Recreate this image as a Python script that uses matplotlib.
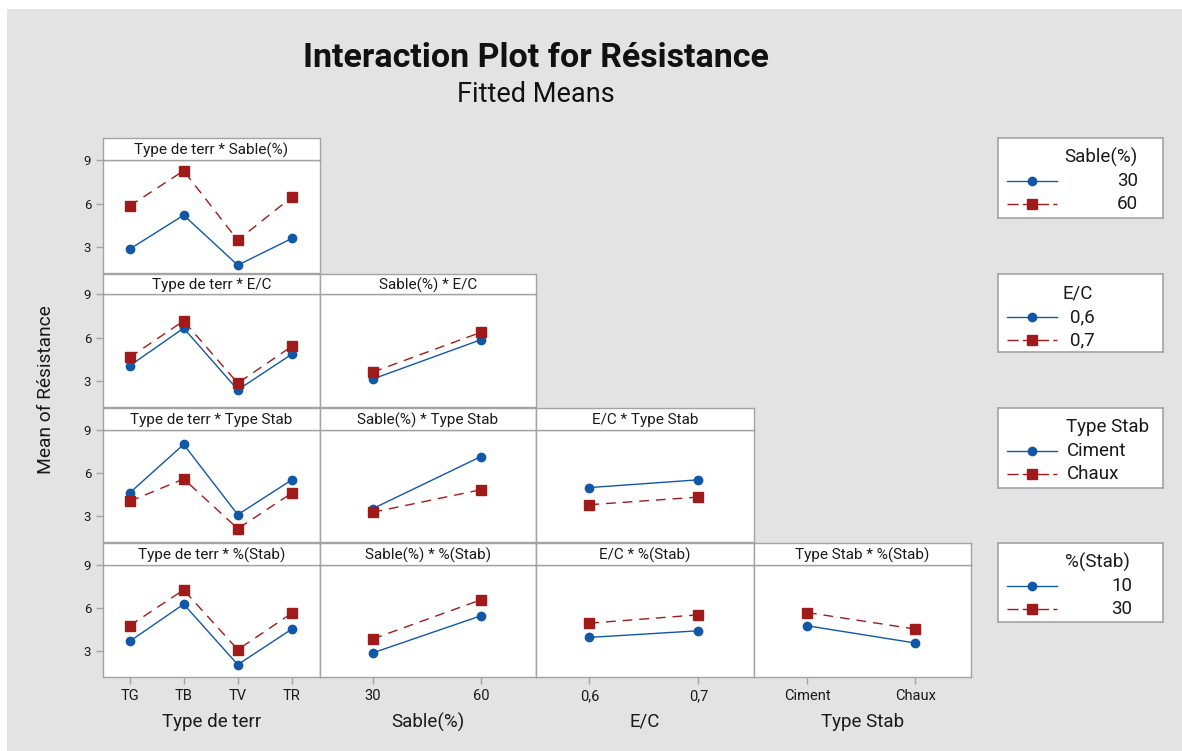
import matplotlib
matplotlib.use("Agg")
import matplotlib.pyplot as plt
from matplotlib.patches import Rectangle

plt.rcParams['font.family'] = ['Roboto', 'DejaVu Sans']

# Factor levels
terr_levels = ["TG", "TB", "TV", "TR"]
sable_levels = ["30", "60"]
ec_levels = ["0,6", "0,7"]
stab_levels = ["Ciment", "Chaux"]
pct_levels = ["10", "30"]

# Fitted means
terr_sable_30 = [2.86, 5.20, 1.76, 3.60]
terr_sable_60 = [5.83, 8.26, 3.48, 6.45]

terr_ec_06 = [4.05, 6.65, 2.40, 4.86]
terr_ec_07 = [4.63, 7.15, 2.86, 5.40]
sable_ec_06 = [3.14, 5.85]
sable_ec_07 = [3.62, 6.36]

terr_stab_ciment = [4.62, 8.00, 3.12, 5.54]
terr_stab_chaux = [4.04, 5.60, 2.15, 4.62]
sable_stab_ciment = [3.53, 7.15]
sable_stab_chaux = [3.28, 4.85]
ec_stab_ciment = [5.00, 5.54]
ec_stab_chaux = [3.81, 4.34]

terr_pct_10 = [3.69, 6.28, 2.08, 4.55]
terr_pct_30 = [4.78, 7.27, 3.12, 5.65]
sable_pct_10 = [2.89, 5.47]
sable_pct_30 = [3.86, 6.58]
ec_pct_10 = [3.97, 4.43]
ec_pct_30 = [4.96, 5.54]
stab_pct_10 = [4.78, 3.58]
stab_pct_30 = [5.70, 4.55]

y_ticks = [3, 6, 9]

BLUE = "#1157a8"
RED = "#a11a1a"
EDGE = "#a3a3a3"
BG = "#e3e3e3"
TXT = "#1a1a1a"

W, H = 1182, 751
fig = plt.figure(figsize=(W / 100, H / 100), dpi=100, facecolor="white")
fig.patches.append(Rectangle((7 / W, 0), 1, 1 - 9 / H, transform=fig.transFigure,
                             facecolor=BG, edgecolor="none", zorder=-10))


def px_axes(x0, y0, x1, y1):
    return fig.add_axes([x0 / W, 1 - y1 / H, (x1 - x0) / W, (y1 - y0) / H])


col_x = [103, 319.5, 536, 754, 970.5]
strip_top = [138, 274, 408, 543]
strip_bot = [160, 294, 430, 565]
plot_bot = [273, 407, 542, 677]

col_levels = [terr_levels, sable_levels, ec_levels, stab_levels]
col_names = ["Type de terr", "Sable(%)", "E/C", "Type Stab"]
strip_titles = [
    ["Type de terr * Sable(%)"],
    ["Type de terr * E/C", "Sable(%) * E/C"],
    ["Type de terr * Type Stab", "Sable(%) * Type Stab", "E/C * Type Stab"],
    ["Type de terr * %(Stab)", "Sable(%) * %(Stab)", "E/C * %(Stab)", "Type Stab * %(Stab)"],
]
panel_data = [
    [(terr_sable_30, terr_sable_60)],
    [(terr_ec_06, terr_ec_07), (sable_ec_06, sable_ec_07)],
    [(terr_stab_ciment, terr_stab_chaux), (sable_stab_ciment, sable_stab_chaux),
     (ec_stab_ciment, ec_stab_chaux)],
    [(terr_pct_10, terr_pct_30), (sable_pct_10, sable_pct_30),
     (ec_pct_10, ec_pct_30), (stab_pct_10, stab_pct_30)],
]

for r in range(4):
    for c in range(r + 1):
        levels = col_levels[c]
        lo, hi = panel_data[r][c]
        xs = list(range(len(levels)))

        ax = px_axes(col_x[c], strip_bot[r], col_x[c + 1], plot_bot[r])
        ax.set_facecolor("white")
        ax.plot(xs, lo, color=BLUE, lw=1.0, marker="o", ms=6, zorder=3)
        ax.plot(xs, hi, color=RED, lw=1.0, ls=(0, (7, 5)), marker="s", ms=6.5, zorder=3)
        ax.set_xlim(-0.49, len(levels) - 1 + 0.51)
        ax.set_ylim(1.22, 9.0)
        for s in ax.spines.values():
            s.set_color(EDGE)
            s.set_linewidth(1.0)
        ax.tick_params(colors=EDGE, labelcolor=TXT, length=5, width=1)
        ax.tick_params(axis="x", labelsize=10.5)
        ax.tick_params(axis="y", labelsize=9.5)
        ax.set_xticks(xs)
        if r == 3:
            ax.set_xticklabels(levels)
            ax.set_xlabel(col_names[c], fontsize=13.5, color=TXT, labelpad=7)
        else:
            ax.tick_params(axis="x", bottom=False, labelbottom=False)
        ax.set_yticks(y_ticks)
        if c == 0:
            ax.set_yticklabels([str(v) for v in y_ticks])
        else:
            ax.tick_params(axis="y", left=False, labelleft=False)

        sax = px_axes(col_x[c], strip_top[r], col_x[c + 1], strip_bot[r])
        sax.set_facecolor("white")
        sax.set_xticks([])
        sax.set_yticks([])
        for s in sax.spines.values():
            s.set_color(EDGE)
            s.set_linewidth(1.0)
        sax.text(0.5, 0.45, strip_titles[r][c], ha="center", va="center",
                 fontsize=11, color=TXT, transform=sax.transAxes)

# Keys on the right
key_titles = ["Sable(%)", "E/C", "Type Stab", "%(Stab)"]
key_labels = [sable_levels, ec_levels, stab_levels, pct_levels]
key_bottom = [218, 352, 488, 622]
key_title_x = [103, 80, 109.5, 99.5]
key_label_x = [140, 72, 69, 134]
key_label_ha = ["right", "left", "left", "right"]

for k in range(4):
    kax = px_axes(998, strip_top[k], 1162.5, key_bottom[k])
    kax.set_xlim(0, 164.5)
    kax.set_ylim(key_bottom[k] - strip_top[k], 0)
    kax.set_facecolor("white")
    kax.set_xticks([])
    kax.set_yticks([])
    for s in kax.spines.values():
        s.set_color(EDGE)
        s.set_linewidth(1.2)
    kax.text(key_title_x[k], 19, key_titles[k], ha="center", va="center",
             fontsize=13.5, color=TXT)
    for i, (col, mk, ls) in enumerate([(BLUE, "o", "-"), (RED, "s", (0, (8, 3)))]):
        yy = 43 + i * 23
        kax.plot([9, 59], [yy, yy], color=col, lw=1.0, ls=ls)
        kax.plot([34], [yy], color=col, marker=mk, ms=6.5 if mk == "s" else 6)
        kax.text(key_label_x[k], yy, key_labels[k][i], ha=key_label_ha[k],
                 va="center", fontsize=13.5, color=TXT)

fig.text(536 / W, 1 - 58 / H, "Interaction Plot for Résistance", ha="center",
         va="center", fontsize=24.5, fontweight="bold", color="#111111")
fig.text(536 / W, 1 - 95 / H, "Fitted Means", ha="center", va="center",
         fontsize=19.5, color="#111111")
fig.text(46 / W, 1 - 390 / H, "Mean of Résistance", ha="center", va="center",
         rotation=90, fontsize=13.8, color=TXT)

fig.savefig("out.png", dpi=100, facecolor=fig.get_facecolor())
